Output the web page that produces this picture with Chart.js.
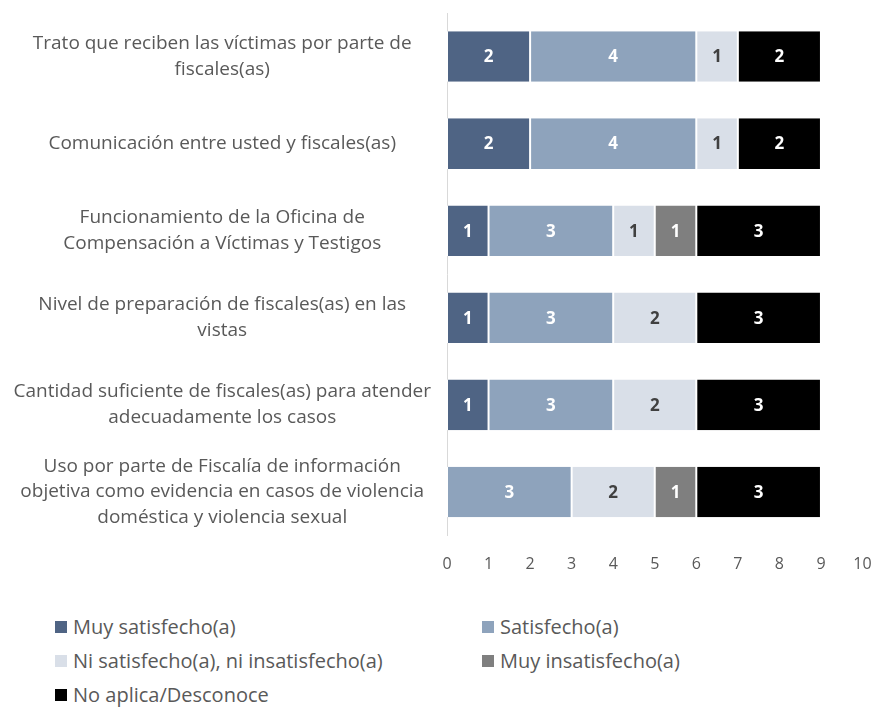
<!DOCTYPE html>
<html>
<head>
<meta charset="utf-8">
<script src="https://cdn.jsdelivr.net/npm/chart.js@4/dist/chart.umd.min.js"></script>
<style>
  html, body { margin: 0; padding: 0; background: #fff; }
  #wrap { position: relative; width: 875px; height: 709px; font-family: "Open Sans", sans-serif; }
  #c { position: absolute; left: 0; top: 0; }
  .lg { position: absolute; font-size: 20px; color: #595959; white-space: nowrap; height: 28px; line-height: 28px; }
  .lg span.box { position: absolute; left: 0; top: 8px; width: 12px; height: 12px; }
  .lg span.txt { position: absolute; left: 18px; top: 0; }
</style>
</head>
<body>
<div id="wrap">
  <canvas id="c" width="875" height="590"></canvas>
  <div id="legend"></div>
</div>
<script>
const categories = [
  ["Trato que reciben las víctimas por parte de", "fiscales(as)"],
  ["Comunicación entre usted y fiscales(as)"],
  ["Funcionamiento de la Oficina de", "Compensación a Víctimas y Testigos"],
  ["Nivel de preparación de fiscales(as) en las", "vistas"],
  ["Cantidad suficiente de fiscales(as) para atender", "adecuadamente los casos"],
  ["Uso por parte de Fiscalía de información", "objetiva como evidencia en casos de violencia", "doméstica y violencia sexual"]
];
const seriesNames = ["Muy satisfecho(a)", "Satisfecho(a)", "Ni satisfecho(a), ni insatisfecho(a)", "Muy insatisfecho(a)", "No aplica/Desconoce"];
const muySatisfecho   = [2, 2, 1, 1, 1, 0];
const satisfecho      = [4, 4, 3, 3, 3, 3];
const niNi            = [1, 1, 1, 2, 2, 2];
const muyInsatisfecho = [0, 0, 1, 0, 0, 1];
const noAplica        = [2, 2, 3, 3, 3, 3];
const xTicks = [0, 1, 2, 3, 4, 5, 6, 7, 8, 9, 10];

const colors = ["#4f6484", "#8ea3bc", "#d9dfe8", "#7f7f7f", "#000000"];
const labelColors = ["#ffffff", "#ffffff", "#404040", "#ffffff", "#ffffff"];
const values = [muySatisfecho, satisfecho, niNi, muyInsatisfecho, noAplica];

const datasets = values.map((v, i) => ({
  label: seriesNames[i],
  data: v,
  backgroundColor: colors[i],
  borderColor: "#ffffff",
  borderWidth: { left: 1, right: 1, top: 0, bottom: 0 },
  borderSkipped: false,
  categoryPercentage: 1,
  barPercentage: 0.58
}));

const valueLabels = {
  id: "valueLabels",
  afterDatasetsDraw(chart) {
    const ctx = chart.ctx;
    ctx.save();
    ctx.font = "bold 17px 'Open Sans', sans-serif";
    ctx.textAlign = "center";
    ctx.textBaseline = "middle";
    chart.data.datasets.forEach((ds, di) => {
      const meta = chart.getDatasetMeta(di);
      meta.data.forEach((bar, i) => {
        const v = ds.data[i];
        if (!v) return;
        const p = bar.getProps(["x", "y", "base"], true);
        ctx.fillStyle = labelColors[di];
        ctx.fillText(String(v), (p.x + p.base) / 2, p.y + 1);
      });
    });
    ctx.restore();
  }
};

new Chart(document.getElementById("c"), {
  type: "bar",
  data: { labels: categories, datasets },
  options: {
    indexAxis: "y",
    responsive: false,
    animation: false,
    layout: { padding: { top: 13, right: 0, left: 0, bottom: 0 } },
    plugins: { legend: { display: false }, tooltip: { enabled: false } },
    scales: {
      x: {
        stacked: true,
        min: 0, max: 10,
        afterBuildTicks(scale) { scale.ticks = xTicks.map(v => ({ value: v })); },
        grid: { display: false },
        border: { display: false },
        ticks: { color: "#595959", font: { family: "'Open Sans', sans-serif", size: 16 }, padding: 11, maxRotation: 0 },
        afterFit(scale) { scale.height = 54.5; scale.paddingLeft = 0; scale.paddingRight = 12.5; }
      },
      y: {
        stacked: true,
        grid: { display: false },
        border: { display: true, color: "#d9d9d9", width: 1 },
        ticks: {
          color: "#595959",
          crossAlign: "center",
          font: { family: "'Open Sans', sans-serif", size: 19, lineHeight: 1.35 },
          padding: 8
        },
        afterFit(scale) { scale.width = 447; scale.paddingTop = 0; scale.paddingBottom = 0; }
      }
    }
  },
  plugins: [valueLabels]
});

const legendPos = [
  [55, 613], [482, 613],
  [55, 647], [482, 647],
  [55, 681]
];
const lg = document.getElementById("legend");
seriesNames.forEach((n, i) => {
  const d = document.createElement("div");
  d.className = "lg";
  d.style.left = legendPos[i][0] + "px";
  d.style.top = legendPos[i][1] + "px";
  d.innerHTML = '<span class="box" style="background:' + colors[i] + '"></span><span class="txt">' + n + '</span>';
  lg.appendChild(d);
});
</script>
</body>
</html>
